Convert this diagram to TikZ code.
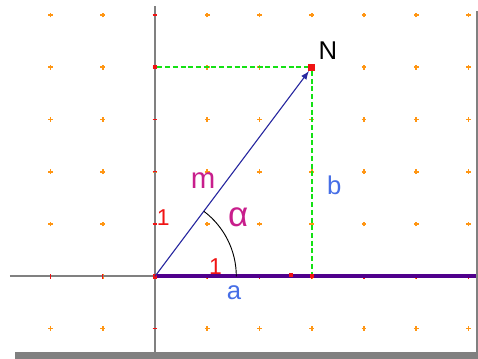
\documentclass[tikz,border=0pt]{standalone}
\usepackage{fontspec}
\setmainfont{Liberation Sans}
\usetikzlibrary{arrows}
\usetikzlibrary{math}
\definecolor{qorange}{RGB}{255,150,20}
\definecolor{qlime}{RGB}{20,225,20}
\definecolor{qpurple}{RGB}{80,0,140}
\definecolor{qnavy}{RGB}{40,40,160}
\definecolor{qblue}{RGB}{70,110,230}
\definecolor{qmagenta}{RGB}{200,30,140}
\definecolor{qred}{RGB}{240,20,20}
\definecolor{qgray}{RGB}{128,128,128}

\begin{document}
\begin{tikzpicture}[scale=1.0,
  pt/.style={fill=qred, inner sep=0pt, minimum size=#1},
  lbl/.style={font=\fontsize{14}{14}\selectfont, inner sep=0pt},
  num/.style={font=\fontsize{12.5}{12.5}\selectfont, text=qred, inner sep=0pt},
  projline/.style={color=qlime, line width=1pt, dash pattern=on 2.7pt off 1.5pt}]

\tikzmath{
\xa = -2; \xb = 6;
\ya = -1; \yb = 5;
\tl = 0.045; %tick half length
\ra = 1.556; %radius of the angle arc
}

\useasboundingbox (-2.967,-1.583) rectangle (6.182,5.288);

% frame shadow
\fill[qgray] (-2.68,-1.455) rectangle (6.182,-1.577);
\fill[qgray] (6.14,5.08) rectangle (6.182,-1.577);

% grid of dots
\foreach \i in {\xa, ..., \xb}{
  \foreach \j in {\ya, ..., \yb}{
    \draw[qorange, line width=0.9pt] (\i-\tl,\j) -- (\i+\tl,\j) (\i,\j-\tl) -- (\i,\j+\tl);
  }
}

% axes
\draw[qgray, line width=1pt] (-2.78,0) -- (6.14,0);
\draw[qgray, line width=1pt] (0,-1.455) -- (0,5.17);
\foreach \i in {\xa, ..., \xb}{
  \draw[qred, line width=0.7pt] (\i,-\tl) -- (\i,\tl);
}
\foreach \j in {\ya, ..., \yb}{
  \draw[qred, line width=0.7pt] (-\tl,\j) -- (\tl,\j);
}
\draw[qpurple, line width=2.2pt] (0,0) -- (6.14,0);

% points
\node[pt=0.09cm] (O) at (0,0) {};
\node[pt=0.13cm] (N) at (3,4) {};
\node[pt=0.08cm] (Y) at (0,4) {};
\node[pt=0.07cm] (X) at (3,0) {};
\node[pt=0.07cm] (P) at (2.6,0.02) {};

% projections
\draw[projline] (Y) -- (N);
\draw[projline] (N) -- (X);

% vector and angle
\draw[qnavy, line width=0.6pt, -latex] (O.center) -- (N);
\draw[black, line width=0.5pt] (\ra,0) arc (0:53.13:\ra);

% labels
\node[lbl] (lN) at (3.31,4.31) {N};
\node[lbl, text=qmagenta, font=\fontsize{16}{16}\selectfont] (lm) at (0.92,1.84) {m};
\node[lbl, text=qmagenta, font=\fontsize{19}{19}\selectfont] (lal) at (1.59,1.13) {α};
\node[lbl, text=qblue] (la) at (1.51,-0.32) {a};
\node[lbl, text=qblue] (lb) at (3.43,1.75) {b};
\node[num] (ly) at (0.16,1.12) {1};
\node[num] (lx) at (1.16,0.18) {1};

\end{tikzpicture}
\end{document}
